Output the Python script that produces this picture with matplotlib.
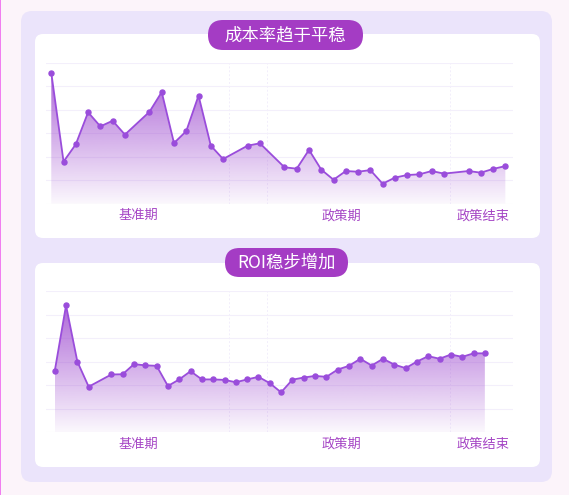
import numpy as np
import matplotlib.pyplot as plt
import matplotlib.colors as mcolors
from matplotlib.patches import FancyBboxPatch, Polygon, Rectangle

plt.rcParams['font.family'] = ['Noto Sans CJK SC', 'DejaVu Sans']

# chart data
cost_idx = [0, 1, 2, 3, 4, 5, 6, 8, 9, 10, 11, 12, 13, 14, 16, 17, 19, 20, 21,
            22, 23, 24, 25, 26, 27, 28, 29, 30, 31, 32, 34, 35, 36, 37]
cost_val = [55.7, 17.9, 25.3, 38.9, 32.9, 35.3, 29.4, 39.1, 47.5, 25.8, 30.9,
            46.0, 24.7, 19.0, 24.7, 25.7, 15.5, 14.9, 22.9, 14.5, 10.2, 13.9,
            13.6, 14.3, 8.5, 11.1, 12.2, 12.5, 13.9, 12.8, 13.9, 13.2, 14.8, 16.0]

roi_idx = [0, 1, 2, 3, 5, 6, 7, 8, 9, 10, 11, 12, 13, 14, 15, 16, 17, 18, 19,
           20, 21, 22, 23, 24, 25, 26, 27, 28, 29, 30, 31, 32, 33, 34, 35, 36, 37, 38]
roi_val = [26.0, 54.0, 30.1, 19.4, 24.6, 24.7, 29.0, 28.5, 28.3, 19.7, 22.5,
           26.0, 22.5, 22.5, 22.3, 21.3, 22.5, 23.6, 20.9, 17.0, 22.4, 23.3,
           24.0, 23.6, 26.7, 28.3, 31.3, 28.4, 31.3, 28.8, 27.3, 30.1, 32.4,
           31.3, 33.1, 32.1, 33.6, 33.6]

period_labels = ['基准期', '政策期', '政策结束']
titles = ['成本率趋于平稳', 'ROI稳步增加']

W, H = 569, 495
LINE = '#9a4ddb'
FILL = '#9d48cf'
BADGE = '#a43cc4'
LABEL = '#a545c5'
GRID = '#f3effb'

fig = plt.figure(figsize=(W / 100, H / 100), dpi=100)
fig.patch.set_facecolor('#fcf4fa')


def px_box(x0, y0, x1, y1, color, rad, z):
    # box given in pixels from top-left, drawn in inches
    p = FancyBboxPatch((x0 / 100, (H - y1) / 100), (x1 - x0) / 100, (y1 - y0) / 100,
                       boxstyle=f'round,pad=0,rounding_size={rad / 100}',
                       transform=fig.dpi_scale_trans, facecolor=color,
                       edgecolor='none', zorder=z)
    fig.patches.append(p)


fig.patches.append(Rectangle((0, 0), 1.2 / W, 1, transform=fig.transFigure,
                             facecolor='#f07ef0', edgecolor='none', zorder=-3))
px_box(21, 11, 552, 482, '#ebe4fb', 11, -2)
px_box(35, 34, 540, 238, 'white', 8, -1)
px_box(35, 263, 540, 467, 'white', 8, -1)


def gradient_fill(ax, x, y):
    x = np.asarray(x, float)
    y = np.asarray(y, float)
    grad = np.zeros((256, 1, 4))
    grad[:, 0, :3] = mcolors.to_rgb(FILL)
    grad[:, 0, 3] = np.linspace(0.04, 0.82, 256)
    im = ax.imshow(grad, aspect='auto', origin='lower', zorder=1,
                   extent=[x.min(), x.max(), 0, y.max()])
    verts = np.vstack([[x[0], 0], np.column_stack([x, y]), [x[-1], 0]])
    poly = Polygon(verts, closed=True, facecolor='none', edgecolor='none')
    ax.add_patch(poly)
    im.set_clip_path(poly)


def draw_chart(top, x, y, xlim, title, badge):
    ax = fig.add_axes([46 / W, 1 - (top + 141) / H, 466.7 / W, 141 / H])
    ax.set_facecolor('none')
    gradient_fill(ax, x, y)
    ax.plot(x, y, color=LINE, lw=1.3, marker='o', ms=3.6, zorder=3)
    ax.set_xlim(*xlim)
    ax.set_ylim(0, 60)
    ax.set_yticks(np.arange(0, 61, 10))
    ax.yaxis.grid(True, color=GRID, lw=0.8)
    ax.set_axisbelow(True)
    span = xlim[1] - xlim[0]
    for f in [0.392, 0.473, 0.866]:
        ax.axvline(xlim[0] + f * span, color='#f2eefb', lw=0.7, ls=(0, (2, 2)), zorder=0)
    ax.set_xticks([xlim[0] + f * span for f in [0.197, 0.632, 0.937]])
    ax.set_xticklabels(period_labels, color=LABEL, fontsize=9.5)
    ax.tick_params(axis='x', length=0, pad=4)
    ax.tick_params(axis='y', length=0, labelleft=False)
    for s in ax.spines.values():
        s.set_visible(False)
    bx0, by0, bx1, by1 = badge
    px_box(bx0, by0, bx1, by1, BADGE, (by1 - by0) / 2, 5)
    fig.text((bx0 + bx1) / 2 / W, 1 - (by0 + by1) / 2 / H, title, color='white',
             fontsize=12.5, ha='center', va='center', zorder=6)
    return ax


draw_chart(62.7, cost_idx, cost_val, (-0.43, 37.6), titles[0], (208, 20, 363, 50))
draw_chart(291.3, roi_idx, roi_val, (-0.77, 40.46), titles[1], (225, 248, 348, 277))

fig.savefig('out.png', dpi=100)
